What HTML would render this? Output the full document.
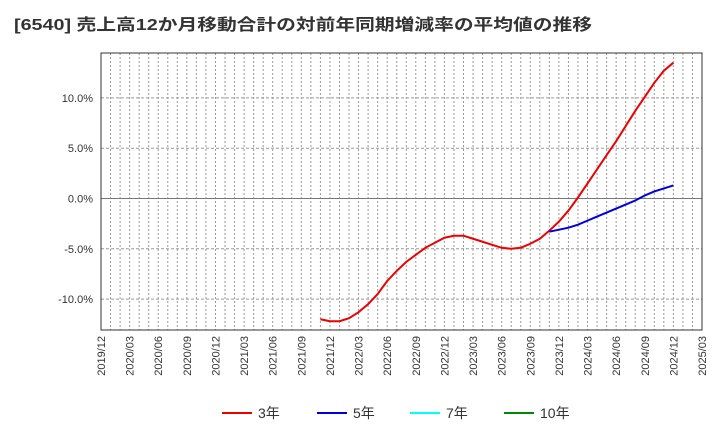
<!DOCTYPE html>
<html><head><meta charset="utf-8"><style>
body{margin:0;background:#fff;width:720px;height:440px;overflow:hidden;font-family:"Liberation Sans","Noto Sans CJK JP",sans-serif;}
</style></head><body>
<svg id="chart" width="720" height="440" xmlns="http://www.w3.org/2000/svg">
<text x="14" y="30" font-size="16" font-weight="bold" fill="#333" textLength="578" lengthAdjust="spacingAndGlyphs" font-family="Liberation Sans, Noto Sans CJK JP, sans-serif">[6540]  売上高12か月移動合計の対前年同期増減率の平均値の推移</text>
<g id="grid"></g><g id="axes"></g><g id="series"></g>
<g font-size="14" fill="#333" font-family="Liberation Sans, Noto Sans CJK JP, sans-serif">
<line x1="222" y1="413" x2="252" y2="413" stroke="#e00" stroke-width="2"/><text x="258" y="418">3年</text>
<line x1="317" y1="413" x2="347" y2="413" stroke="#00d" stroke-width="2"/><text x="353" y="418">5年</text>
<line x1="410" y1="413" x2="440" y2="413" stroke="#0ff" stroke-width="2"/><text x="446" y="418">7年</text>
<line x1="504" y1="413" x2="534" y2="413" stroke="#080" stroke-width="2"/><text x="540" y="418">10年</text>
</g>
</svg>
<script>
const xTickLabels=["2019/12","2020/03","2020/06","2020/09","2020/12","2021/03","2021/06","2021/09","2021/12","2022/03","2022/06","2022/09","2022/12","2023/03","2023/06","2023/09","2023/12","2024/03","2024/06","2024/09","2024/12","2025/03"];
const yTicks=[-10,-5,0,5,10];
const red3Start=23;
const red3=[-12.0,-12.2,-12.2,-11.9,-11.3,-10.5,-9.5,-8.2,-7.2,-6.3,-5.6,-4.9,-4.4,-3.9,-3.7,-3.7,-4.0,-4.3,-4.6,-4.9,-5.0,-4.9,-4.5,-4.0,-3.2,-2.3,-1.2,0.1,1.5,2.9,4.3,5.7,7.2,8.7,10.1,11.5,12.7,13.5];
const blue5Start=47;
const blue5=[-3.3,-3.1,-2.9,-2.6,-2.2,-1.8,-1.4,-1.0,-0.6,-0.2,0.3,0.7,1.0,1.3];
const L=101,R=702,T=53,B=330;
const X=m=>L+m*(R-L)/63;
const Y=v=>198.5-v*10.06;
const NS="http://www.w3.org/2000/svg";
function mk(p,t,a){const e=document.createElementNS(NS,t);for(const k in a)e.setAttribute(k,a[k]);p.appendChild(e);return e;}
const g=document.getElementById('grid'),ax=document.getElementById('axes'),s=document.getElementById('series');
for(let m=1;m<63;m++){const l=mk(g,'line',{x1:X(m),x2:X(m),y1:T,y2:B,stroke:'#999','stroke-dasharray':'2,2','stroke-width':1});

}
yTicks.forEach(v=>{const l=mk(g,'line',{x1:L,x2:R,y1:Y(v),y2:Y(v),stroke:v===0?'#777':'#999','stroke-dasharray':v===0?'':'3,2','stroke-width':1});


const t=mk(ax,'text',{x:L-8,y:Y(v)+4,'text-anchor':'end','font-size':11,fill:'#333'});t.textContent=v.toFixed(1)+'%';

});
const fr=mk(ax,'rect',{x:L,y:T,width:R-L,height:B-T,fill:'none',stroke:'#333','stroke-width':1});


xTickLabels.forEach((lb,i)=>{const x=X(i*3)+4;const t=mk(ax,'text',{x:x,y:B+6,transform:`rotate(-90 ${x} ${B+6})`,'text-anchor':'end','font-size':11,fill:'#333'});t.textContent=lb;

});
function line(d,st,c,n){const p=mk(s,'polyline',{points:d.map((v,i)=>X(st+i)+','+Y(v)).join(' '),fill:'none',stroke:c,'stroke-width':2});

}
line(red3,red3Start,'#e00','series-3y');
line(blue5,blue5Start,'#00d','series-5y');
</script>
</body></html>
